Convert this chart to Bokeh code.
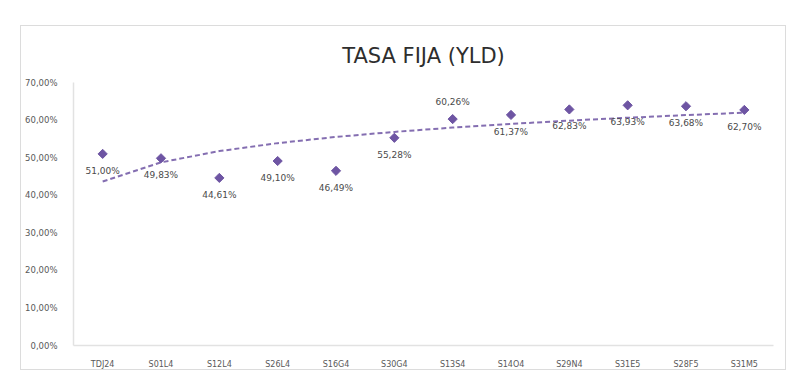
import numpy as np
from bokeh.plotting import figure
from bokeh.models import ColumnDataSource, FixedTicker, LabelSet
from bokeh.core.properties import value
from bokeh.embed import file_html
from bokeh.resources import INLINE

# ---- data ----
categories = ["TDJ24", "S01L4", "S12L4", "S26L4", "S16G4", "S30G4",
              "S13S4", "S14O4", "S29N4", "S31E5", "S28F5", "S31M5"]
yld = [51.00, 49.83, 44.61, 49.10, 46.49, 55.28,
       60.26, 61.37, 62.83, 63.93, 63.68, 62.70]
y_ticks = [0, 10, 20, 30, 40, 50, 60, 70]
y_tick_labels = ["0,00%", "10,00%", "20,00%", "30,00%", "40,00%",
                 "50,00%", "60,00%", "70,00%"]
label_side = ["below", "below", "below", "below", "below", "below",
              "above", "below", "below", "below", "below", "below"]

# logarithmic trendline (least squares on ln(x)), as the spreadsheet computes it
xi = np.arange(1, len(categories) + 1)
b, a = np.polyfit(np.log(xi), np.array(yld), 1)
trend = list(a + b * np.log(xi))

labels = [f"{v:.2f}".replace(".", ",") + "%" for v in yld]
offsets = [-17 if s == "below" else 17 for s in label_side]

src = ColumnDataSource(dict(cat=categories, y=yld, trend=trend,
                            lab=labels, off=offsets))

FONT = "DejaVu Sans"
PURPLE = "#6E55A3"

p = figure(x_range=categories, y_range=(0, 70), width=766, height=345,
           output_backend="svg", toolbar_location=None,
           title="TASA FIJA (YLD)",
           min_border_left=52, min_border_right=14,
           min_border_top=50, min_border_bottom=25,
           styles={"margin-left": "20px", "margin-top": "25px",
                   "border": "1px solid #dcdcdc"})
p.outline_line_color = None
p.background_fill_color = "white"
p.border_fill_color = "white"
p.xgrid.grid_line_color = None
p.ygrid.grid_line_color = None

p.title.align = "center"
p.title.text_font = FONT
p.title.text_font_size = "21px"
p.title.text_font_style = "normal"
p.title.text_color = "#2e2e2e"
p.title.standoff = 30

# trendline
p.line("cat", "trend", source=src, line_color=PURPLE, line_width=2,
       line_dash="5 3", line_alpha=0.85)
# points
p.scatter("cat", "y", source=src, marker="square", angle=np.pi / 4, size=6.5,
          fill_color=PURPLE, line_color=PURPLE)

p.add_layout(LabelSet(x="cat", y="y", text="lab", source=src,
                      y_offset="off", text_align="center",
                      text_baseline="middle", text_font=value(FONT),
                      text_font_size="9px", text_color="#4a4a4a"))

# axes
p.yaxis.ticker = FixedTicker(ticks=y_ticks)
p.yaxis.major_label_overrides = {t: l for t, l in zip(y_ticks, y_tick_labels)}
for ax in (p.xaxis[0], p.yaxis[0]):
    ax.axis_line_color = "#e2e2e2"
    ax.axis_line_width = 1.5
    ax.major_tick_line_color = None
    ax.minor_tick_line_color = None
    ax.major_label_text_font = FONT
    ax.major_label_text_color = "#595959"
p.yaxis.major_label_text_font_size = "8.5px"
p.yaxis.major_label_standoff = 10
p.xaxis.major_label_text_font_size = "8px"
p.xaxis.major_label_standoff = 8

open("out.html", "w").write(file_html(p, INLINE))
